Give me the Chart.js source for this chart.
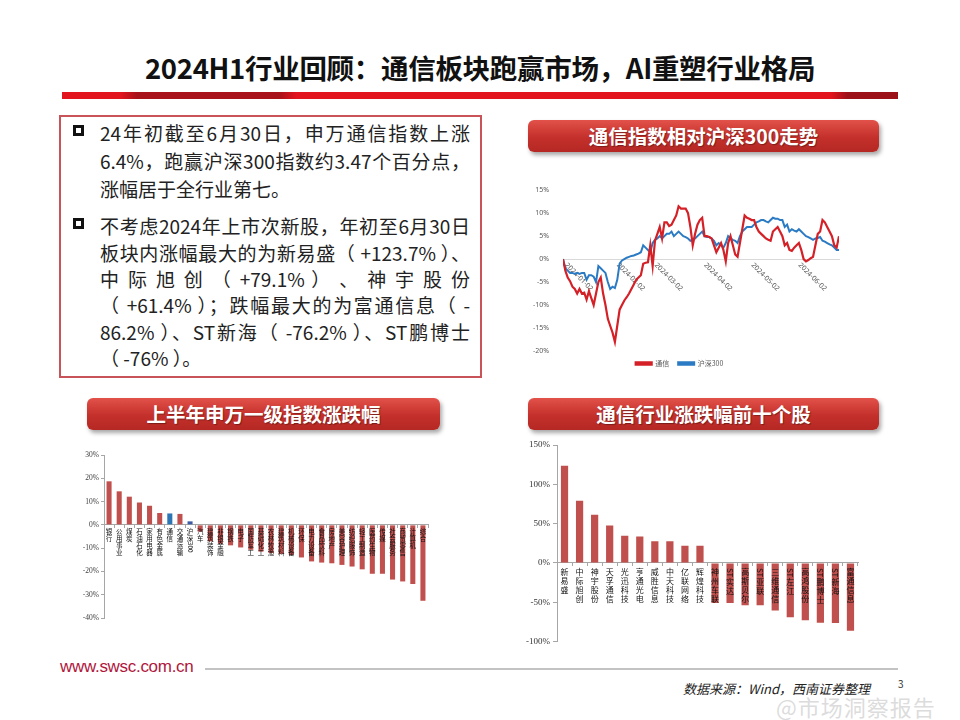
<!DOCTYPE html>
<html>
<head>
<meta charset="utf-8">
<script src="https://cdn.jsdelivr.net/npm/chart.js@4.4.1/dist/chart.umd.min.js"></script>
<style>
body {
    margin: 0;
    width: 960px;
    height: 720px;
    background: #fff;
    position: relative;
    overflow: hidden;
    font-family: "Noto Sans CJK SC", "Noto Sans", sans-serif;
}
.abs { position: absolute; }
.title {
    left: 0; width: 960px; top: 47px;
    text-align: center;
    font-size: 27.5px;
    font-weight: bold;
    color: #111;
    letter-spacing: -0.3px;
}
.redbar {
    left: 62px; top: 92px; width: 836px; height: 7px;
    background: linear-gradient(to right, #e2141d 0%, #e2141d 7%, #a8121a 9%, #a8121a 26%, #e2141d 28%, #e2141d 92%, #9c1018 94%, #9c1018 100%);
}
.box {
    left: 59px; top: 115px; width: 419px; height: 259px;
    border: 2px solid #c8545a;
}
.line {
    position: absolute;
    left: 100px; width: 370px;
    font-size: 19px;
    line-height: 26px;
    color: #222;
    white-space: nowrap;
}
.just { text-align: justify; text-align-last: justify; }
.bullet {
    position: absolute;
    left: 73px; width: 5px; height: 5px;
    border: 3px solid #111;
}
.pill {
    height: 32px;
    line-height: 32px;
    border-radius: 6px;
    background: linear-gradient(#e2514a, #c4302b 55%, #b52824);
    box-shadow: 2px 3px 4px rgba(0,0,0,0.35);
    color: #fff;
    font-weight: bold;
    font-size: 19.5px;
    text-align: center;
    text-shadow: 1px 1px 1px rgba(0,0,0,0.35);
}
.chartbox { position: absolute; }
.site {
    left: 60px; top: 657px;
    font-family: "Liberation Sans", Arial, sans-serif;
    font-size: 17px;
    color: #b0163c;
    letter-spacing: -0.3px;
}
.rule { left: 205px; top: 668px; width: 693px; height: 2px; background: #c3c3c3; }
.src {
    left: 683px; top: 679px;
    font-size: 13px;
    font-style: italic;
    color: #222;
}
.pageno { left: 898px; top: 676px; font-size: 10px; color: #333; }
.mark {
    left: 776px; top: 690px;
    font-size: 22px;
    color: rgba(190,190,190,0.55);
    letter-spacing: 1px;
}
</style>
</head>
<body>

<div class="abs title">2024H1行业回顾：通信板块跑赢市场，AI重塑行业格局</div>
<div class="abs redbar"></div>

<div class="abs box"></div>
<div class="bullet" style="top:125px"></div>
<div class="line just" style="top:120px">24年初截至6月30日，申万通信指数上涨</div>
<div class="line just" style="top:148px">6.4%，跑赢沪深300指数约3.47个百分点，</div>
<div class="line" style="top:176px">涨幅居于全行业第七。</div>
<div class="bullet" style="top:218px"></div>
<div class="line just" style="top:213px">不考虑2024年上市次新股，年初至6月30日</div>
<div class="line just" style="top:240px">板块内涨幅最大的为新易盛（ +123.7% ）、</div>
<div class="line just" style="top:266px">中 际 旭 创 （ +79.1% ） 、 神 宇 股 份</div>
<div class="line just" style="top:292px">（ +61.4% ）；跌幅最大的为富通信息（ -</div>
<div class="line just" style="top:319px">86.2% ）、ST新海（ -76.2% ）、ST鹏博士</div>
<div class="line" style="top:345px">（ -76% ）。</div>

<div class="abs pill" style="left:528px; top:120px; width:351px;">通信指数相对沪深300走势</div>
<div class="abs pill" style="left:87px; top:398px; width:353px;">上半年申万一级指数涨跌幅</div>
<div class="abs pill" style="left:528px; top:398px; width:351px;">通信行业涨跌幅前十个股</div>

<div class="chartbox" style="left:520px; top:180px; width:345px; height:197px;"><canvas id="trendChart"></canvas></div>
<div class="chartbox" style="left:70px; top:445px; width:370px; height:190px;"><canvas id="industryChart"></canvas></div>
<div class="chartbox" style="left:515px; top:435px; width:360px; height:215px;"><canvas id="stockChart"></canvas></div>

<div class="abs site">www.swsc.com.cn</div>
<div class="abs rule"></div>
<div class="abs src">数据来源：Wind，西南证券整理</div>
<div class="abs pageno">3</div>
<div class="abs mark">@市场洞察报告</div>

<script>
// =========================
// Data
// =========================

// relative return since 2024-01-02, one value per trading day (%)
const txRet = [
    0, -2.5, -4, -4.8, -6, -6.5, -7.5, -6.5, -7.5, -7.3,
    -8.8, -7, -8.5, -10, -7.5, -5, -4, -7.5, -10, -13,
    -14.5, -16, -18, -14.5, -11, -10, -9, -8.3, -7.5, -6.5,
    -5.5, -4.5, -4, -3.5, -1, -0.8, -0.7, 3, -1.5, 4,
    5.5, 7, 4.5, 8, 8, 7.2, 7.5, 8.5, 9.5, 11.5,
    11, 11, 11, 10, 7, 3, 5.5, 7.5, 8.5, 9,
    5, 5, 4.8, 4.5, 3, 1.5, 2.5, 3.5, 2, -0.5,
    3.5, 5, 3, 1, 0.5, 3.5, 6.5, 9.5, 9, 8.8,
    8.5, 8.5, 7, 6, 5.5, 5, 4.5, 4.2, 4, 6,
    6.5, 7, 6, 5, 3, 3.5, 2, 1.8, 2.5, 3,
    3.5, 2, 0, -0.5, -0.2, 0.2, 0.5, 3, 5.5, 6,
    8.5, 8, 7, 6, 5, 3, 2.5, 5
];

const hs300Ret = [
    0, -2, -2.5, -3, -3, -3.2, -3, -3.2, -3, -3,
    -4.5, -3.5, -3.5, -3.8, -5, -1.5, -2, -2.5, -3, -5,
    -6.5, -6, -6.3, -4.5, -1, -0.3, 0, 0.3, 0.5, 0.7,
    0.8, 1, 1.2, 1.5, 3, 2.5, 2, 1.5, 3.5, 4.2,
    4.5, 5, 4.5, 5, 5.5, 5.5, 6, 5, 5.5, 6,
    5.5, 5, 4.8, 4.5, 4, 4.2, 4.5, 5, 5.5, 6,
    5, 4.8, 4.8, 4.5, 4, 3, 3.5, 3, 2.5, 3.5,
    5, 4.5, 4.2, 4, 3.5, 5, 6, 6.5, 7, 7,
    7, 7.5, 8, 8.2, 8.5, 8.5, 8.2, 8, 8.5, 9,
    8.8, 8.8, 8.5, 8.5, 7, 7.5, 6, 6.5, 6.2, 6,
    6.5, 6, 5.5, 5, 4.8, 4.5, 4.2, 4.5, 4.6, 4.8,
    4, 3.8, 3.5, 3.2, 3, 2.5, 2, 2
];

// date labels and the trading-day index where each one falls
const dateTicks = ["2024-01-02", "2024-02-02", "2024-03-02", "2024-04-02", "2024-05-02", "2024-06-02"];
const dateTickAt = [0, 22, 38, 59, 79, 99];

const swIndustry = [
    "银行", "公用事业", "煤炭", "石油石化", "家用电器", "有色金属", "通信", "交通运输",
    "沪深300", "汽车", "建筑装饰", "非银金融", "钢铁", "电子", "国防军工", "基础化工",
    "农林牧渔", "建筑材料", "机械设备", "环保", "电力设备", "食品饮料", "房地产", "美容护理",
    "纺织服饰", "轻工制造", "医药生物", "传媒", "社会服务", "商贸零售", "计算机", "综合"
];
const swRet = [
    18.7, 14.4, 12.1, 9.6, 8.2, 5.1, 4.9, 4.7,
    1.5, -2.9, -7.1, -8.1, -8.8, -9.7, -10.7, -11.5,
    -12.1, -12.5, -12.9, -14.0, -15.7, -16.2, -16.5, -17.2,
    -17.9, -19.1, -21.0, -21.0, -23.5, -24.3, -25.4, -32.6
];

const stockNames = [
    "新易盛", "中际旭创", "神宇股份", "天孚通信", "光迅科技",
    "亨通光电", "威胜信息", "中天科技", "亿联网络", "辉煌科技",
    "神州车联", "ST实达", "高斯贝尔", "ST亚联", "三维通信",
    "ST左江", "高鸿股份", "ST鹏博士", "ST新海", "富通信息"
];
const stockRet = [
    123.7, 79.1, 61.4, 47.5, 34.7, 33.5, 27.5, 27.5, 22.0, 22.0,
    -50.8, -50.8, -53.8, -53.8, -60.6, -69.0, -72.9, -76.0, -76.2, -86.2
];

const pctTicksTrend = { min: -20, max: 15, step: 5 };
const pctTicksIndustry = { min: -40, max: 30, step: 10 };
const pctTicksStock = { min: -100, max: 150, step: 50 };

// =========================
// Helpers
// =========================

// split a name for vertical writing: one CJK char per piece, latin/digit runs kept whole
function vertical(name) {
    return name.match(/[A-Za-z0-9*]+|./g);
}

function industryColor(name) {
    if (name === "通信") return "#2e75b6";
    if (name === "沪深300") return "#3d5aa6";
    return "#c0504d";
}

const serif = "'Liberation Serif', 'Noto Sans CJK SC', serif";
const cjk = "'Noto Sans CJK SC', sans-serif";

// x labels of the trend chart run down to the right from the 0 line
const slantLabels = {
    id: "slantLabels",
    beforeDatasetsDraw(chart) {
        const ctx = chart.ctx;
        const x = chart.scales.x;
        const y = chart.scales.y;
        ctx.save();
        ctx.font = "7px 'Noto Sans', sans-serif";
        ctx.fillStyle = "#595959";
        ctx.textAlign = "left";
        ctx.textBaseline = "middle";
        dateTickAt.forEach((pos, k) => {
            ctx.save();
            ctx.translate(x.getPixelForValue(pos) + 3, y.getPixelForValue(0) + 5);
            ctx.rotate(Math.PI / 4);
            ctx.fillText(dateTicks[k], 0, 0);
            ctx.restore();
        });
        ctx.restore();
    }
};

// category names written top-down just under the 0 line, over the bars
const stackedLabels = {
    id: "stackedLabels",
    afterDatasetsDraw(chart, args, opts) {
        const ctx = chart.ctx;
        const x = chart.scales.x;
        const y = chart.scales.y;
        const top = y.getPixelForValue(0) + opts.gap;
        ctx.save();
        ctx.fillStyle = opts.color;
        ctx.font = opts.size + "px " + cjk;
        chart.data.labels.forEach((parts, i) => {
            const cx = x.getPixelForValue(i);
            let cy = top;
            parts.forEach(p => {
                if (/^[A-Za-z0-9*]+$/.test(p)) {
                    // latin runs lie on their side, as in vertical writing
                    const w = ctx.measureText(p).width;
                    ctx.save();
                    ctx.translate(cx, cy);
                    ctx.rotate(Math.PI / 2);
                    ctx.textAlign = "left";
                    ctx.textBaseline = "middle";
                    ctx.fillText(p, 0, 0);
                    ctx.restore();
                    cy += w + 1;
                } else {
                    ctx.textAlign = "center";
                    ctx.textBaseline = "top";
                    ctx.fillText(p, cx, cy);
                    cy += opts.step;
                }
            });
        });
        ctx.restore();
    }
};

// =========================
// Trend chart
// =========================

new Chart(document.getElementById("trendChart"), {
    type: "line",
    data: {
        datasets: [
            {
                label: "通信",
                data: txRet.map((v, i) => ({ x: i, y: v })),
                borderColor: "#d42027",
                backgroundColor: "#d42027",
                borderWidth: 2.2,
                pointRadius: 0,
                tension: 0
            },
            {
                label: "沪深300",
                data: hs300Ret.map((v, i) => ({ x: i, y: v })),
                borderColor: "#2b7bc4",
                backgroundColor: "#2b7bc4",
                borderWidth: 2,
                pointRadius: 0,
                tension: 0
            }
        ]
    },
    options: {
        animation: false,
        responsive: true,
        maintainAspectRatio: false,
        layout: { padding: { top: 6, right: 26, bottom: 0, left: 0 } },
        plugins: {
            legend: {
                position: "bottom",
                labels: {
                    boxWidth: 16,
                    boxHeight: 2.5,
                    padding: 9,
                    color: "#595959",
                    font: { size: 7, family: cjk }
                }
            },
            tooltip: { enabled: false }
        },
        scales: {
            x: {
                type: "linear",
                min: 0,
                max: txRet.length - 1,
                position: { y: 0 },
                grid: { display: false },
                border: { color: "#d9d9d9", width: 1 },
                ticks: { display: false }
            },
            y: {
                min: pctTicksTrend.min,
                max: pctTicksTrend.max,
                ticks: {
                    stepSize: pctTicksTrend.step,
                    callback: v => v + "%",
                    color: "#595959",
                    font: { size: 7, family: "'Noto Sans', sans-serif" },
                    padding: 6
                },
                grid: { display: false },
                border: { display: false },
                afterFit: s => { s.width = 43; }
            }
        }
    },
    plugins: [slantLabels]
});

// =========================
// Industry bar chart
// =========================

new Chart(document.getElementById("industryChart"), {
    type: "bar",
    data: {
        labels: swIndustry.map(vertical),
        datasets: [{
            data: swRet,
            backgroundColor: swIndustry.map(industryColor),
            barPercentage: 0.5,
            categoryPercentage: 1
        }]
    },
    options: {
        animation: false,
        responsive: true,
        maintainAspectRatio: false,
        layout: { padding: { top: 10, right: 12, bottom: 17, left: 0 } },
        plugins: {
            legend: { display: false },
            tooltip: { enabled: false },
            stackedLabels: { gap: 3, size: 6.5, step: 7, color: "#111" }
        },
        scales: {
            x: {
                position: { y: 0 },
                grid: { drawOnChartArea: false, tickLength: 3, color: "#a6a6a6" },
                border: { color: "#a6a6a6" },
                ticks: { display: false }
            },
            y: {
                min: pctTicksIndustry.min,
                max: pctTicksIndustry.max,
                ticks: {
                    stepSize: pctTicksIndustry.step,
                    callback: v => v + "%",
                    color: "#404040",
                    font: { size: 7.5, family: serif },
                    padding: 2
                },
                grid: { drawOnChartArea: false, tickLength: 3, color: "#a6a6a6" },
                border: { color: "#a6a6a6" },
                afterFit: s => { s.width = 34; }
            }
        }
    },
    plugins: [stackedLabels]
});

// =========================
// Top / bottom ten stocks
// =========================

new Chart(document.getElementById("stockChart"), {
    type: "bar",
    data: {
        labels: stockNames.map(vertical),
        datasets: [{
            data: stockRet,
            backgroundColor: "#c0504d",
            barPercentage: 0.48,
            categoryPercentage: 1
        }]
    },
    options: {
        animation: false,
        responsive: true,
        maintainAspectRatio: false,
        layout: { padding: { top: 10, right: 17, bottom: 8, left: 0 } },
        plugins: {
            legend: { display: false },
            tooltip: { enabled: false },
            stackedLabels: { gap: 5, size: 8, step: 9, color: "#111" }
        },
        scales: {
            x: {
                position: { y: 0 },
                grid: { drawOnChartArea: false, tickLength: 3, color: "#a6a6a6" },
                border: { color: "#a6a6a6" },
                ticks: { display: false }
            },
            y: {
                min: pctTicksStock.min,
                max: pctTicksStock.max,
                ticks: {
                    stepSize: pctTicksStock.step,
                    callback: v => v + "%",
                    color: "#333",
                    font: { size: 9, family: serif },
                    padding: 3
                },
                grid: { drawOnChartArea: false, tickLength: 4, color: "#a6a6a6" },
                border: { color: "#a6a6a6" },
                afterFit: s => { s.width = 42; }
            }
        }
    },
    plugins: [stackedLabels]
});
</script>
</body>
</html>
